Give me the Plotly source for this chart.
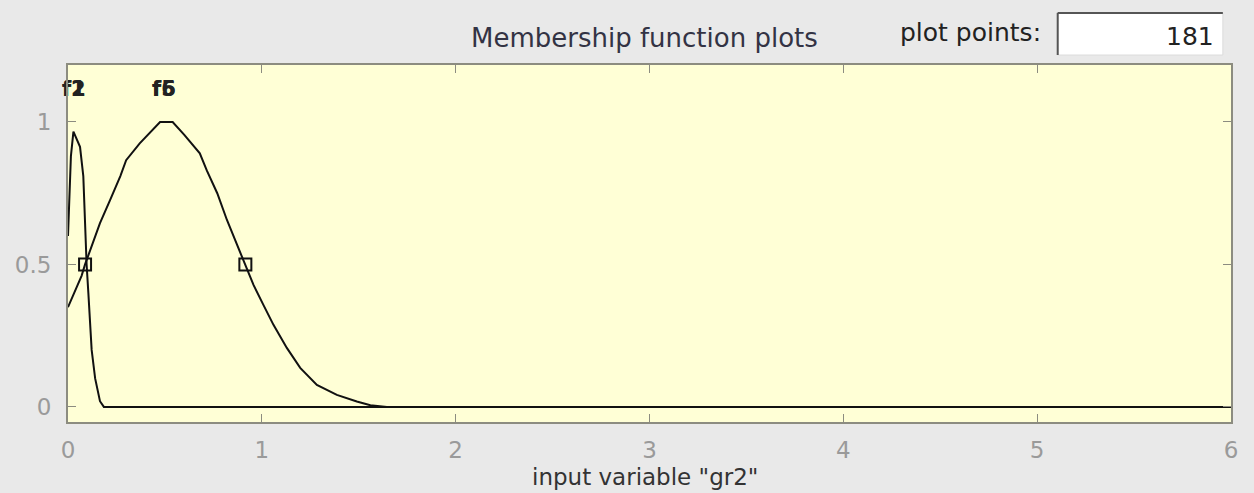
import plotly.graph_objects as go

# ---- data ----
narrow_x = [0, 0.005, 0.015, 0.028, 0.045, 0.062, 0.079, 0.088, 0.096, 0.105, 0.122, 0.14, 0.165, 0.185, 6]
narrow_y = [0.6, 0.7, 0.88, 0.966, 0.937, 0.913, 0.81, 0.6, 0.5, 0.4, 0.2, 0.1, 0.02, 0, 0]

wide_x = [0, 0.036, 0.07, 0.088, 0.122, 0.165, 0.217, 0.27, 0.30, 0.37, 0.475, 0.54, 0.60,
          0.68, 0.716, 0.77, 0.82, 0.87, 0.915, 0.957, 1.008, 1.06, 1.129, 1.198, 1.284,
          1.387, 1.49, 1.56, 1.645, 6]
wide_y = [0.35, 0.405, 0.46, 0.5, 0.562, 0.645, 0.726, 0.81, 0.866, 0.925, 1.0, 1.0, 0.955,
          0.89, 0.83, 0.75, 0.656, 0.575, 0.5, 0.428, 0.358, 0.288, 0.207, 0.137, 0.077,
          0.042, 0.019, 0.006, 0, 0]

marker_x = [0.088, 0.915]
marker_y = [0.5, 0.5]

label_names = ["f1", "f2", "f5", "f6"]
label_x = [0.03, 0.03, 0.495, 0.495]
label_y = [1.11, 1.11, 1.11, 1.11]

x_ticks = [0, 1, 2, 3, 4, 5, 6]
y_ticks = [0, 0.5, 1]
y_tick_text = ["0", "0.5", "1"]

FONT = "DejaVu Sans, Liberation Sans, Arial, sans-serif"
AXIS_COLOR = "#8c8c80"
BG = "#e9e9e9"

fig = go.Figure()
fig.add_trace(go.Scatter(x=narrow_x, y=narrow_y, mode="lines",
                         line=dict(color="#111111", width=2), showlegend=False))
fig.add_trace(go.Scatter(x=wide_x, y=wide_y, mode="lines",
                         line=dict(color="#111111", width=2), showlegend=False))
fig.add_trace(go.Scatter(x=marker_x, y=marker_y, mode="markers",
                         marker=dict(symbol="square-open", size=12,
                                     line=dict(color="#111111", width=2), color="#111111"),
                         showlegend=False))
fig.add_trace(go.Scatter(x=label_x, y=label_y, mode="text", text=label_names,
                         textfont=dict(family=FONT, size=21, color="#222222", weight="bold"),
                         showlegend=False, cliponaxis=False))

fig.update_layout(
    width=1254, height=493,
    margin=dict(l=68, r=23, t=65, b=71),
    paper_bgcolor=BG,
    plot_bgcolor="#ffffd6",
    font=dict(family=FONT, size=20, color="#8a8a8a"),
    xaxis=dict(range=[0, 6], tickvals=x_ticks, ticks="inside", ticklen=8,
               tickcolor=AXIS_COLOR, showline=True, linecolor=AXIS_COLOR, linewidth=2,
               mirror="ticks", showgrid=False, zeroline=False, ticklabelstandoff=6,
               tickfont=dict(family=FONT, size=23, color="#9a9a9a")),
    yaxis=dict(range=[-0.053, 1.2], tickvals=y_ticks, ticktext=y_tick_text,
               ticks="inside", ticklen=8, tickcolor=AXIS_COLOR, showline=True,
               linecolor=AXIS_COLOR, linewidth=2, mirror="ticks", showgrid=False,
               zeroline=False, ticklabelstandoff=10,
               tickfont=dict(family=FONT, size=23, color="#9a9a9a")),
    annotations=[
        dict(text="Membership function plots", x=0.496, y=1.076, xref="paper", yref="paper",
             xanchor="center", yanchor="middle",
             showarrow=False, font=dict(family=FONT, size=26, color="#333344")),
        dict(text="plot points:", x=0.838, y=1.092, xref="paper", yref="paper",
             xanchor="right", yanchor="middle",
             showarrow=False, font=dict(family=FONT, size=25, color="#222222")),
        dict(text="181", x=0.987, y=1.081, xref="paper", yref="paper", xanchor="right",
             yanchor="middle",
             showarrow=False, font=dict(family=FONT, size=25, color="#222222")),
        dict(text='input variable "gr2"', x=0.496, y=-0.155, xref="paper", yref="paper",
             xanchor="center", yanchor="middle",
             showarrow=False, font=dict(family=FONT, size=23, color="#333333")),
    ],
    shapes=[
        dict(type="rect", xref="paper", yref="paper", x0=0.851, x1=0.993, y0=1.028, y1=1.146,
             fillcolor="#ffffff", line=dict(color="#dcdcdc", width=1)),
        dict(type="line", xref="paper", yref="paper", x0=0.851, x1=0.993, y0=1.146, y1=1.146,
             line=dict(color="#555555", width=2)),
        dict(type="line", xref="paper", yref="paper", x0=0.851, x1=0.851, y0=1.028, y1=1.146,
             line=dict(color="#555555", width=2)),
    ],
)

fig.write_html(
    "out.html",
    config={"displayModeBar": False},
    post_script=(
        "document.body.style.margin='0';"
        "document.body.style.background='" + BG + "';"
        "document.documentElement.style.background='" + BG + "';"
    ),
)
